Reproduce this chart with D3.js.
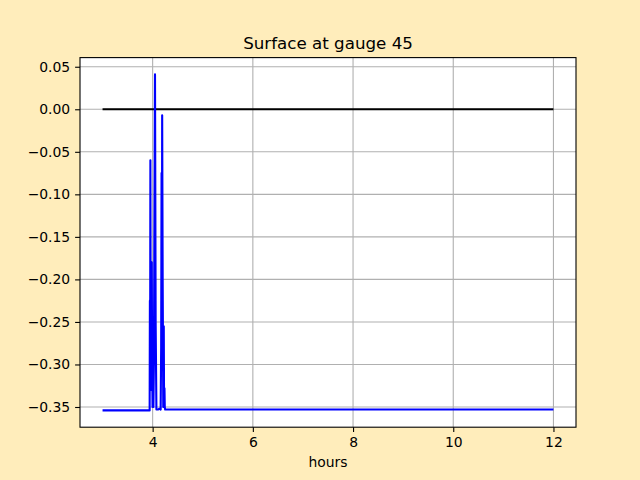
<!DOCTYPE html>
<html><head><meta charset="utf-8">
<script src="https://cdn.jsdelivr.net/npm/d3@7"></script>
<style>body{margin:0;background:#ffedbb;} svg{display:block;}</style>
</head><body>
<script>
const title = "Surface at gauge 45";
const xLabel = "hours";
const xTicks = [4, 6, 8, 10, 12];
const yTicks = [0.05, 0.00, -0.05, -0.10, -0.15, -0.20, -0.25, -0.30, -0.35];
const surfHours = [3.0, 3.94, 3.945, 3.95, 3.955, 3.962, 3.968, 3.975, 3.982, 3.99, 3.998, 4.006, 4.015, 4.025, 4.047, 4.06, 4.075, 4.11, 4.13, 4.16, 4.17, 4.178, 4.185, 4.19, 4.2, 4.212, 4.222, 4.228, 4.236, 4.242, 4.25, 12.0];
const surfValues = [-0.354, -0.354, -0.225, -0.30, -0.06, -0.33, -0.20, -0.32, -0.18, -0.30, -0.35, -0.28, -0.35, -0.30, 0.041, -0.25, -0.353, -0.353, -0.352, -0.353, -0.28, -0.075, -0.25, -0.007, -0.20, -0.35, -0.255, -0.35, -0.328, -0.35, -0.353, -0.353];
const refHours = [3.0, 12.0];
const refValues = [0.0, 0.0];

const W = 640, H = 480;
const m = {l: 80, r: 576, t: 57.6, b: 427.2};
const svg = d3.select("body").append("svg").attr("width", W).attr("height", H);
svg.append("rect").attr("width", W).attr("height", H).attr("fill", "#ffedbb");
svg.append("rect").attr("x", m.l).attr("y", m.t).attr("width", m.r - m.l).attr("height", m.b - m.t).attr("fill", "#ffffff");

const xmin = 3, xmax = 12, xr = xmax - xmin;
const x = d3.scaleLinear().domain([xmin - 0.05 * xr, xmax + 0.05 * xr]).range([m.l, m.r]);
const ymin = d3.min(surfValues), ymax = d3.max(surfValues), yr = ymax - ymin;
const y = d3.scaleLinear().domain([ymin - 0.05 * yr, ymax + 0.05 * yr]).range([m.b, m.t]);

const font = "DejaVu Sans, sans-serif";
// grid
const g = svg.append("g");
g.selectAll(".gx").data(xTicks).enter().append("line")
  .attr("x1", d => x(d)).attr("x2", d => x(d)).attr("y1", m.t).attr("y2", m.b)
  .attr("stroke", "#b0b0b0").attr("stroke-width", 1.1);
g.selectAll(".gy").data(yTicks).enter().append("line")
  .attr("y1", d => y(d)).attr("y2", d => y(d)).attr("x1", m.l).attr("x2", m.r)
  .attr("stroke", "#b0b0b0").attr("stroke-width", 1.1);

const line = d3.line().x(d => x(d[0])).y(d => y(d[1]));
svg.append("path").datum(refHours.map((h, i) => [h, refValues[i]]))
  .attr("d", line).attr("fill", "none").attr("stroke", "#000000").attr("stroke-width", 2.1);
svg.append("path").datum(surfHours.map((h, i) => [h, surfValues[i]]))
  .attr("d", line).attr("fill", "none").attr("stroke", "#0000ff").attr("stroke-width", 2.1)
  .attr("stroke-linejoin", "round");

// axes
const fmtY = d => d3.format(".2f")(d).replace("-", "\u2212");
const xa = svg.append("g").attr("transform", `translate(0,${m.b})`)
  .call(d3.axisBottom(x).tickValues(xTicks).tickSize(4.9).tickPadding(4.9).tickFormat(d3.format("d")));
const ya = svg.append("g").attr("transform", `translate(${m.l},0)`)
  .call(d3.axisLeft(y).tickValues(yTicks).tickSize(4.9).tickPadding(4.9).tickFormat(fmtY));
[xa, ya].forEach(a => {
  a.select(".domain").remove();
  a.selectAll(".tick line").attr("stroke", "#000").attr("stroke-width", 1.1);
  a.selectAll(".tick text").attr("font-family", font).attr("font-size", "13.9px").attr("fill", "#000");
});
svg.append("rect").attr("x", m.l).attr("y", m.t).attr("width", m.r - m.l).attr("height", m.b - m.t)
  .attr("fill", "none").attr("stroke", "#000").attr("stroke-width", 1.1);

svg.append("text").attr("x", (m.l + m.r) / 2).attr("y", m.t - 8.5).attr("text-anchor", "middle")
  .attr("font-family", font).attr("font-size", "16.7px").text(title);
svg.append("text").attr("x", (m.l + m.r) / 2).attr("y", 467).attr("text-anchor", "middle")
  .attr("font-family", font).attr("font-size", "13.9px").text(xLabel);
</script>
</body></html>
